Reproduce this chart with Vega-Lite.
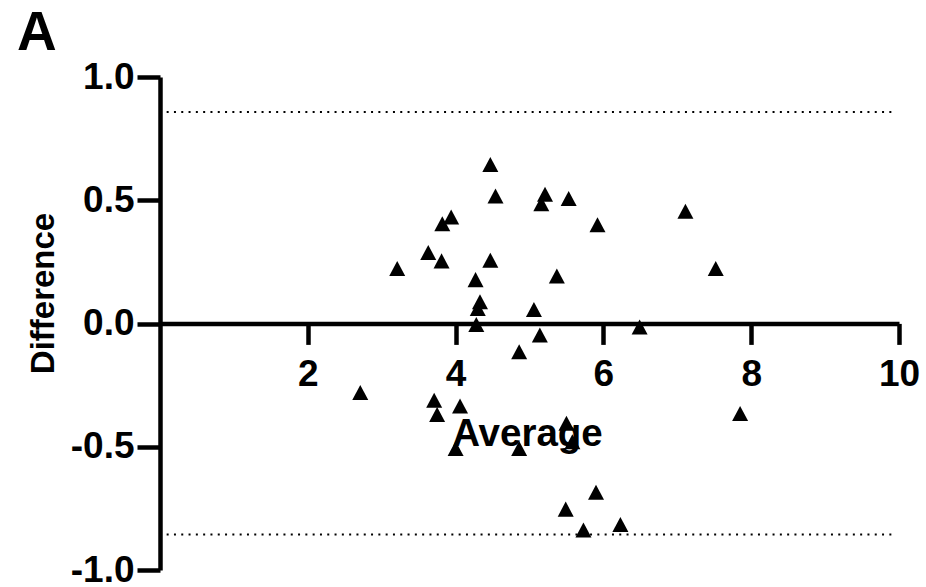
{
  "$schema": "https://vega.github.io/schema/vega-lite/v6.json",
  "width": 739,
  "height": 493,
  "autosize": {"type": "none"},
  "padding": {"left": 160, "top": 77, "right": 27, "bottom": 17},
  "background": "white",
  "title": {
    "text": "A",
    "anchor": "start",
    "frame": "group",
    "orient": "top",
    "dx": -143,
    "dy": 57,
    "offset": 10,
    "baseline": "alphabetic",
    "fontSize": 55,
    "font": "Liberation Sans",
    "fontWeight": "bold",
    "color": "black"
  },
  "datasets": {
    "points": [
      {"Average": 4.47, "Difference": 0.645},
      {"Average": 4.54, "Difference": 0.517},
      {"Average": 3.94, "Difference": 0.432},
      {"Average": 3.82, "Difference": 0.405},
      {"Average": 3.63, "Difference": 0.288},
      {"Average": 3.81, "Difference": 0.254},
      {"Average": 3.21, "Difference": 0.223},
      {"Average": 4.47, "Difference": 0.257},
      {"Average": 4.27, "Difference": 0.178},
      {"Average": 4.33, "Difference": 0.088},
      {"Average": 4.30, "Difference": 0.061},
      {"Average": 4.28, "Difference": -0.004},
      {"Average": 5.21, "Difference": 0.524},
      {"Average": 5.16, "Difference": 0.486},
      {"Average": 5.53, "Difference": 0.507},
      {"Average": 5.92, "Difference": 0.401},
      {"Average": 7.11, "Difference": 0.455},
      {"Average": 5.37, "Difference": 0.193},
      {"Average": 7.52, "Difference": 0.223},
      {"Average": 5.06, "Difference": 0.057},
      {"Average": 6.49, "Difference": -0.014},
      {"Average": 5.14, "Difference": -0.047},
      {"Average": 4.86, "Difference": -0.115},
      {"Average": 2.71, "Difference": -0.280},
      {"Average": 3.71, "Difference": -0.311},
      {"Average": 3.75, "Difference": -0.369},
      {"Average": 4.06, "Difference": -0.335},
      {"Average": 4.00, "Difference": -0.507},
      {"Average": 4.86, "Difference": -0.507},
      {"Average": 7.85, "Difference": -0.365},
      {"Average": 5.50, "Difference": -0.405},
      {"Average": 5.58, "Difference": -0.48},
      {"Average": 5.90, "Difference": -0.685},
      {"Average": 5.49, "Difference": -0.753},
      {"Average": 5.73, "Difference": -0.838},
      {"Average": 6.23, "Difference": -0.815}
    ],
    "limits": [
      {"from": 0.09, "to": 9.93, "limit": 0.858},
      {"from": 0.09, "to": 9.93, "limit": -0.856}
    ]
  },
  "layer": [
    {
      "data": {"name": "limits"},
      "mark": {"type": "rule", "color": "black", "strokeWidth": 2, "strokeDash": [2, 5.3]},
      "encoding": {
        "x": {"field": "from", "type": "quantitative", "scale": {"domain": [0, 10], "nice": false}},
        "x2": {"field": "to"},
        "y": {"field": "limit", "type": "quantitative", "scale": {"domain": [-1, 1], "nice": false}}
      }
    },
    {
      "data": {"name": "points"},
      "mark": {"type": "point", "shape": "M0,-0.94L1,0.94L-1,0.94Z", "filled": true, "size": 256, "color": "black", "opacity": 1},
      "encoding": {
        "x": {
          "field": "Average", "type": "quantitative",
          "scale": {"domain": [0, 10], "nice": false},
          "axis": {
            "orient": "bottom",
            "offset": -246.6,
            "values": [2, 4, 6, 8, 10],
            "format": "d",
            "grid": false,
            "domainColor": "black",
            "domainWidth": 4.5,
            "tickColor": "black",
            "tickWidth": 4.5,
            "tickSize": 21,
            "labelPadding": 12,
            "labelFont": "Liberation Sans",
            "labelFontWeight": "bold",
            "labelFontSize": 37,
            "labelColor": "black",
            "labelFlush": false,
            "labelOverlap": false,
            "title": "Average",
            "titleFont": "Liberation Sans",
            "titleFontWeight": "bold",
            "titleFontSize": 38.5,
            "titleColor": "black",
            "titleX": 367,
            "titleY": 122,
            "titleBaseline": "alphabetic",
            "titleAlign": "center",
            "zindex": 1
          }
        },
        "y": {
          "field": "Difference", "type": "quantitative",
          "scale": {"domain": [-1, 1], "nice": false},
          "axis": {
            "orient": "left",
            "values": [-1, -0.5, 0, 0.5, 1],
            "labelExpr": "replace(format(datum.value, '.1f'), '\u2212', '-')",
            "grid": false,
            "domainColor": "black",
            "domainWidth": 4.5,
            "tickColor": "black",
            "tickWidth": 4.5,
            "tickSize": 23,
            "labelPadding": 3,
            "labelFont": "Liberation Sans",
            "labelFontWeight": "bold",
            "labelFontSize": 37,
            "labelColor": "black",
            "labelFlush": false,
            "labelOverlap": false,
            "title": "Difference",
            "titleFont": "Liberation Sans",
            "titleFontWeight": "bold",
            "titleFontSize": 33,
            "titleColor": "black",
            "titleAngle": -90,
            "titleX": -107,
            "titleY": 216,
            "titleBaseline": "alphabetic",
            "titleAlign": "center",
            "zindex": 1
          }
        }
      }
    }
  ],
  "config": {"view": {"stroke": null}}
}
